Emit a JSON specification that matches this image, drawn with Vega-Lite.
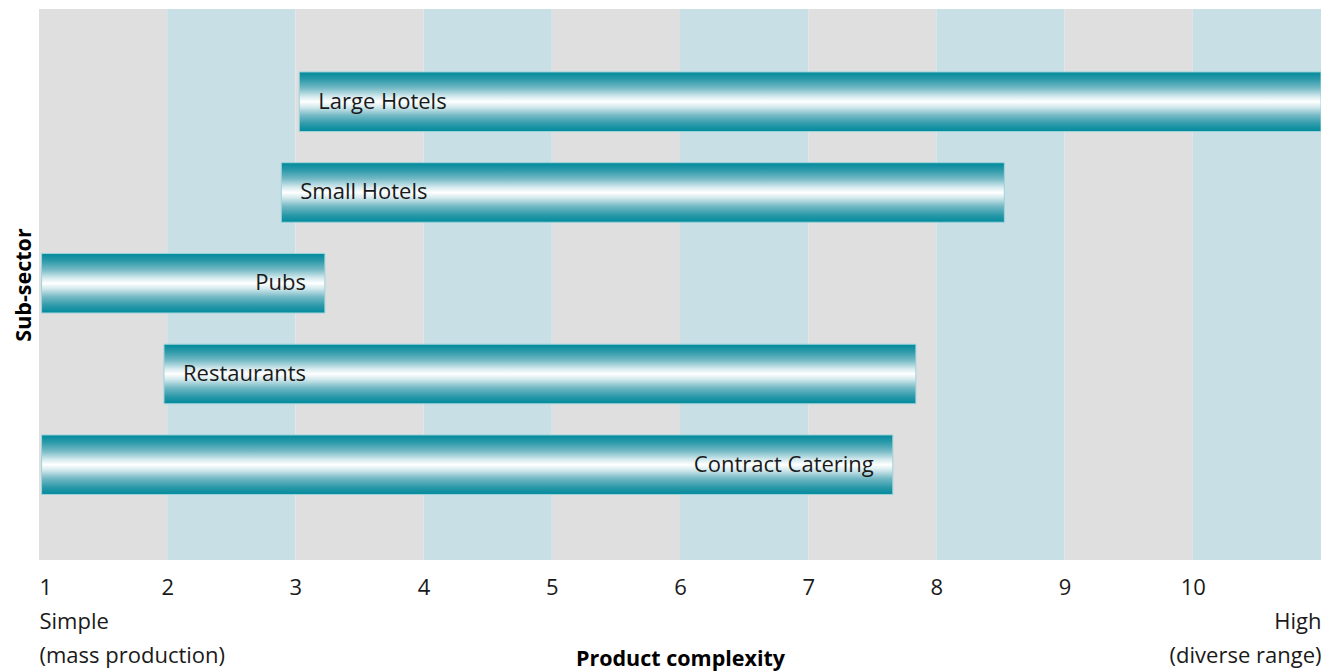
{
  "$schema": "https://vega.github.io/schema/vega-lite/v6.json",
  "width": 1282,
  "height": 551,
  "autosize": {"type": "none"},
  "padding": {"left": 39, "top": 9, "right": 0, "bottom": 112},
  "config": {"view": {"stroke": null}, "font": "Open Sans"},
  "datasets": {
    "bands": [
      {"from": 1, "to": 2, "shade": "grey"},
      {"from": 2, "to": 3, "shade": "blue"},
      {"from": 3, "to": 4, "shade": "grey"},
      {"from": 4, "to": 5, "shade": "blue"},
      {"from": 5, "to": 6, "shade": "grey"},
      {"from": 6, "to": 7, "shade": "blue"},
      {"from": 7, "to": 8, "shade": "grey"},
      {"from": 8, "to": 9, "shade": "blue"},
      {"from": 9, "to": 10, "shade": "grey"},
      {"from": 10, "to": 11, "shade": "blue"}
    ],
    "sectors": [
      {"sector": "Large Hotels", "start": 3.03, "end": 11},
      {"sector": "Small Hotels", "start": 2.89, "end": 8.53},
      {"sector": "Pubs", "start": 1.02, "end": 3.23},
      {"sector": "Restaurants", "start": 1.975, "end": 7.84},
      {"sector": "Contract Catering", "start": 1.02, "end": 7.66}
    ]
  },
  "layer": [
    {
      "data": {"name": "bands"},
      "mark": {"type": "rect"},
      "encoding": {
        "x": {
          "field": "from",
          "type": "quantitative",
          "scale": {"domain": [1, 11], "nice": false, "zero": false},
          "axis": {
            "values": [1, 2, 3, 4, 5, 6, 7, 8, 9, 10, 11],
            "format": "d",
            "labelExpr": "datum.value == 1 ? ['\u00a01', 'Simple', '(mass production)'] : datum.value == 11 ? [' ', 'High', '(diverse range)'] : datum.label",
            "labelFlush": true,
            "labelOverlap": false,
            "labelBound": false,
            "labelLimit": 0,
            "ticks": false,
            "tickSize": 0,
            "domain": false,
            "grid": false,
            "labelFontSize": 22,
            "labelColor": "#1a1a1a",
            "labelPadding": 17,
            "labelLineHeight": 34,
            "title": "Product complexity",
            "titleFontSize": 21.5,
            "titleFontWeight": "bold",
            "titleColor": "#000000",
            "titleLimit": 0,
            "titleY": 105,
            "titleBaseline": "alphabetic"
          }
        },
        "x2": {"field": "to"},
        "color": {
          "field": "shade",
          "type": "nominal",
          "scale": {"domain": ["grey", "blue"], "range": ["#dfdfdf", "#c8dfe5"]},
          "legend": null
        }
      }
    },
    {
      "data": {"name": "sectors"},
      "mark": {
        "type": "bar",
        "clip": true,
        "fill": {
          "gradient": "linear",
          "x1": 0, "y1": 0, "x2": 0, "y2": 1,
          "stops": [
            {"offset": 0, "color": "#008a9c"},
            {"offset": 0.12, "color": "#2a99a9"},
            {"offset": 0.27, "color": "#74b9c5"},
            {"offset": 0.41, "color": "#d3e9ed"},
            {"offset": 0.5, "color": "#ffffff"},
            {"offset": 0.59, "color": "#d3e9ed"},
            {"offset": 0.73, "color": "#74b9c5"},
            {"offset": 0.88, "color": "#2a99a9"},
            {"offset": 1, "color": "#008a9c"}
          ]
        },
        "stroke": "#9fd3da",
        "strokeWidth": 1
      },
      "encoding": {
        "y": {
          "field": "sector",
          "type": "nominal",
          "scale": {
            "domain": ["Large Hotels", "Small Hotels", "Pubs", "Restaurants", "Contract Catering"],
            "paddingInner": 0.344,
            "paddingOuter": 0.708,
            "align": 0.49
          },
          "axis": {
            "title": "Sub-sector",
            "labels": false,
            "ticks": false,
            "domain": false,
            "grid": false,
            "titleFontSize": 21.5,
            "titleFontWeight": "bold",
            "titleColor": "#000000",
            "titlePadding": 4
          }
        },
        "x": {"field": "start", "type": "quantitative"},
        "x2": {"field": "end"}
      }
    },
    {
      "data": {"name": "sectors"},
      "transform": [{"filter": "datum.start > 1.5"}],
      "mark": {"type": "text", "align": "left", "baseline": "middle", "dx": 19, "fontSize": 22, "color": "#1a1a1a"},
      "encoding": {
        "y": {"field": "sector", "type": "nominal"},
        "x": {"field": "start", "type": "quantitative"},
        "text": {"field": "sector"}
      }
    },
    {
      "data": {"name": "sectors"},
      "transform": [{"filter": "datum.start <= 1.5"}],
      "mark": {"type": "text", "align": "right", "baseline": "middle", "dx": -19, "fontSize": 22, "color": "#1a1a1a"},
      "encoding": {
        "y": {"field": "sector", "type": "nominal"},
        "x": {"field": "end", "type": "quantitative"},
        "text": {"field": "sector"}
      }
    }
  ]
}
